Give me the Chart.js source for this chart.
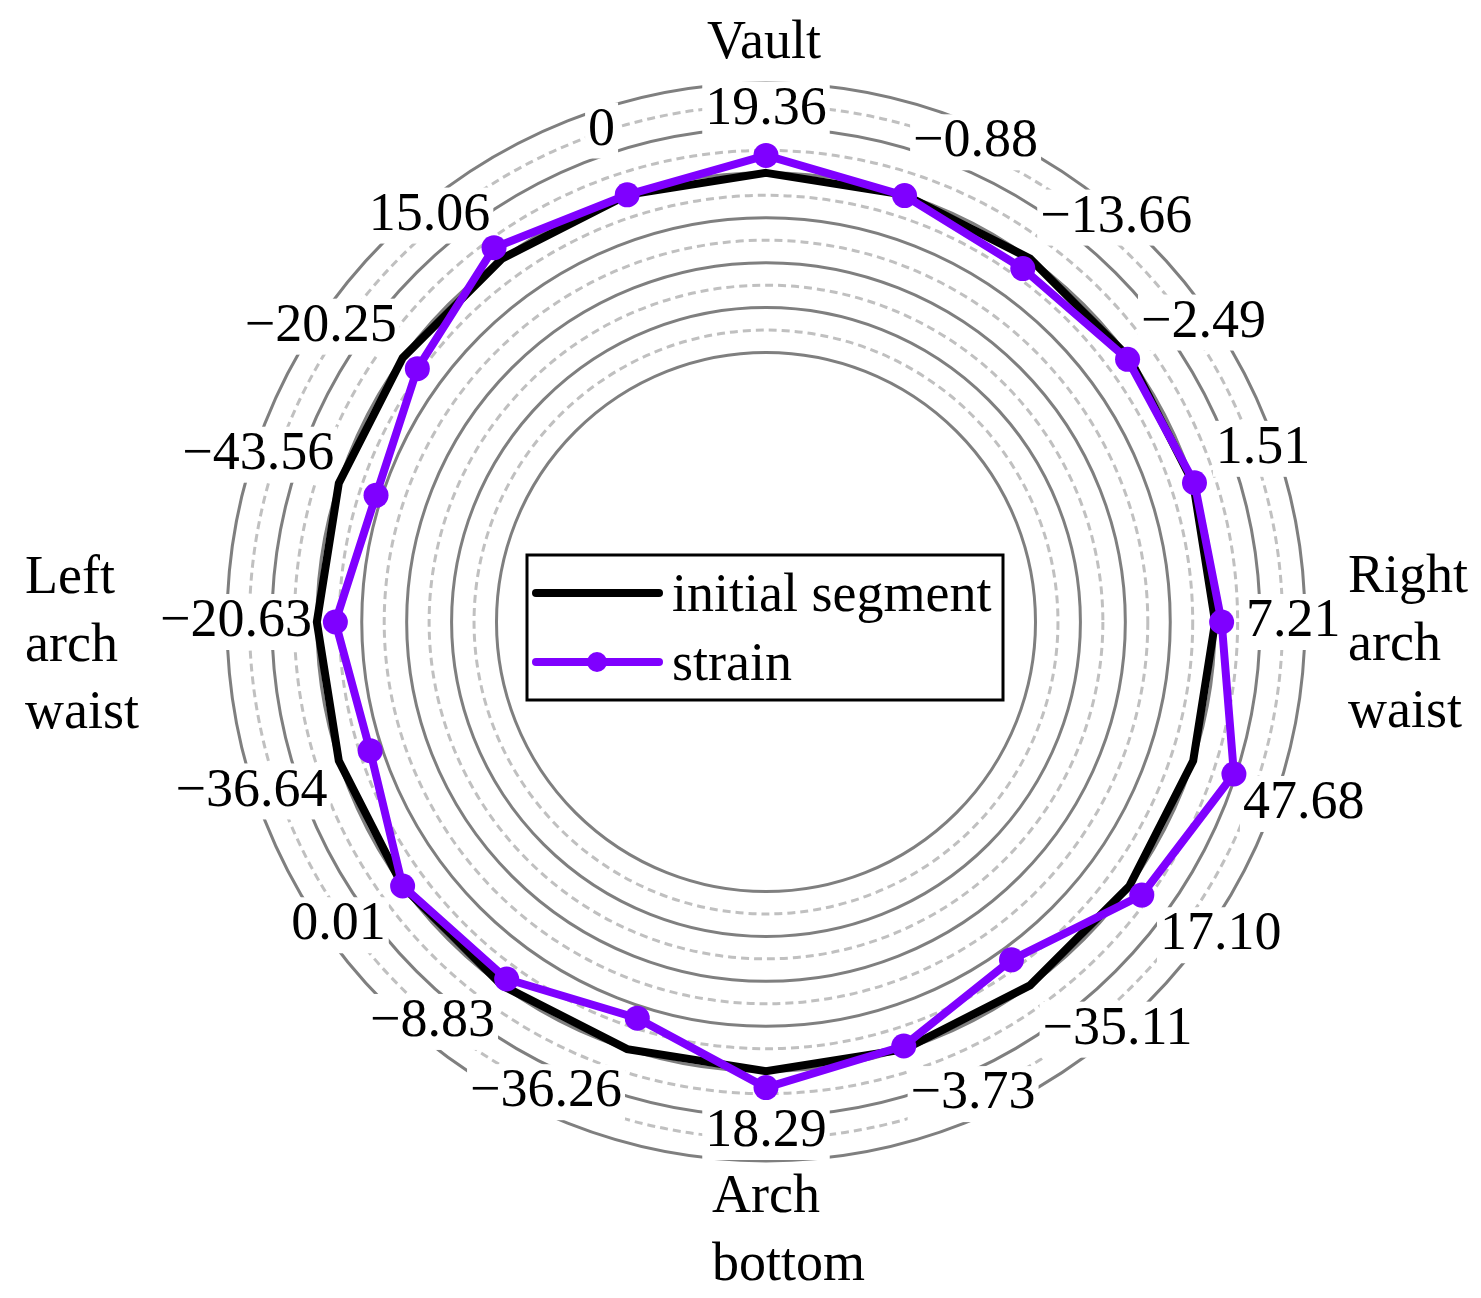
<!DOCTYPE html>
<html>
<head>
<meta charset="utf-8">
<script src="https://cdn.jsdelivr.net/npm/chart.js@4.4.1/dist/chart.umd.min.js"></script>
<style>
  html, body { margin: 0; padding: 0; background: #ffffff; }
  #wrap { width: 1481px; height: 1298px; }
</style>
</head>
<body>
<div id="wrap"><canvas id="c" width="1481" height="1298"></canvas></div>
<script>
// ---------- data ----------
const categories = ['19.36', '\u22120.88', '\u221213.66', '\u22122.49', '1.51', '7.21', '47.68', '17.10',
  '\u221235.11', '\u22123.73', '18.29', '\u221236.26', '\u22128.83', '0.01', '\u221236.64', '\u221220.63',
  '\u221243.56', '\u221220.25', '15.06', '0'];
const strainValues = [19.36, -0.88, -13.66, -2.49, 1.51, 7.21, 47.68, 17.10, -35.11, -3.73,
  18.29, -36.26, -8.83, 0.01, -36.64, -20.63, -43.56, -20.25, 15.06, 0];
const initialValues = [0, 0, 0, 0, 0, 0, 0, 0, 0, 0, 0, 0, 0, 0, 0, 0, 0, 0, 0, 0];
const seriesNames = ['initial segment', 'strain'];
const directionNames = [['Vault'], ['Right', 'arch', 'waist'], ['Arch', 'bottom'], ['Left', 'arch', 'waist']];

// ---------- layout / style ----------
const FONT = 'Liberation Serif';
const FS = 54;
const pointLabelPadding = [-54, -63, -72.5, -75.5, -66, -59, -37.5, -52, -68.5, -71,
  -56, -73, -78, -69, -78, -85, -85, -82.5, -70, -50.6];
const directionPlacement = [
  { dx: -2, dy: -564, align: 'center' },
  { dx: 582, dy: -30, align: 'left' },
  { dx: -54, dy: 590, align: 'left' },
  { dx: -741, dy: -29, align: 'left' }
];
const LINE_STEP = 67.5;

Chart.defaults.font.family = FONT;

const overlay = {
  id: 'overlay',
  afterDraw(chart) {
    const s = chart.scales.r;
    const ctx = chart.ctx;
    const cx = s.xCenter, cy = s.yCenter;
    ctx.save();
    ctx.font = FS + 'px "' + FONT + '"';
    ctx.fillStyle = '#000';
    ctx.textBaseline = 'alphabetic';
    directionNames.forEach((lines, i) => {
      const p = directionPlacement[i];
      ctx.textAlign = p.align;
      lines.forEach((t, k) => ctx.fillText(t, cx + p.dx, cy + p.dy + k * LINE_STEP));
    });

    // legend box
    const L = { left: cx - 239, top: cy - 67, w: 476, h: 145 };
    ctx.fillStyle = '#fff';
    ctx.fillRect(L.left, L.top, L.w, L.h);
    ctx.lineWidth = 3;
    ctx.strokeStyle = '#000';
    ctx.strokeRect(L.left, L.top, L.w, L.h);
    chart.data.datasets.forEach((ds, k) => {
      const y = L.top + 38 + k * 69;
      ctx.beginPath();
      ctx.moveTo(L.left + 9, y);
      ctx.lineTo(L.left + 132, y);
      ctx.lineWidth = ds.borderWidth;
      ctx.strokeStyle = ds.borderColor;
      ctx.lineCap = 'round';
      ctx.stroke();
      if (ds.pointRadius > 0) {
        ctx.beginPath();
        ctx.arc(L.left + 70, y, 10, 0, Math.PI * 2);
        ctx.fillStyle = ds.pointBackgroundColor;
        ctx.fill();
      }
      ctx.fillStyle = '#000';
      ctx.textAlign = 'left';
      ctx.fillText(ds.label, L.left + 145, y + 18);
    });
    ctx.restore();
  }
};

new Chart(document.getElementById('c'), {
  type: 'radar',
  data: {
    labels: categories,
    datasets: [
      {
        label: seriesNames[0], data: initialValues, rAxisID: 'r',
        borderColor: '#000000', backgroundColor: 'transparent', borderWidth: 8,
        pointRadius: 0, pointHoverRadius: 0, fill: false, order: 1
      },
      {
        label: seriesNames[1], data: strainValues, rAxisID: 'r',
        borderColor: '#7f00ff', backgroundColor: '#7f00ff', pointBackgroundColor: '#7f00ff',
        pointBorderColor: '#7f00ff', pointBorderWidth: 0, pointRadius: 12.5, pointHoverRadius: 12.5,
        borderWidth: 8, fill: false, order: 0
      }
    ]
  },
  options: {
    responsive: false,
    animation: false,
    devicePixelRatio: 1,
    layout: { padding: { left: 66, right: 15, top: 83, bottom: 137 } },
    plugins: { legend: { display: false }, tooltip: { enabled: false } },
    elements: { line: { tension: 0 } },
    scales: {
      r: {
        type: 'radialLinear',
        min: -500, max: 100,
        ticks: { display: false, stepSize: 25 },
        pointLabels: { display: false },
        angleLines: { display: false },
        grid: {
          circular: true,
          color: (c) => (c.tick && Math.round(c.tick.value) % 50 === 0) ? '#7f7f7f' : '#c0c0c0',
          lineWidth: (c) => (c.tick && c.tick.value >= -200) ? 3 : 0
        },
        border: {
          dash: (c) => (c.tick && Math.round(c.tick.value) % 50 === 0) ? [] : [8, 5]
        }
      },
      rLabels: {
        type: 'radialLinear',
        axis: 'r',
        min: 0, max: 1,
        ticks: { display: false },
        angleLines: { display: false },
        grid: { display: false, z: 0 },
        pointLabels: {
          display: true,
          color: '#000',
          font: { family: FONT, size: FS, lineHeight: 1 },
          padding: (c) => pointLabelPadding[c.index],
          backdropColor: '#ffffff',
          backdropPadding: { left: 3, right: 3, top: 1, bottom: 1 }
        }
      }
    }
  },
  plugins: [overlay]
});
</script>
</body>
</html>
